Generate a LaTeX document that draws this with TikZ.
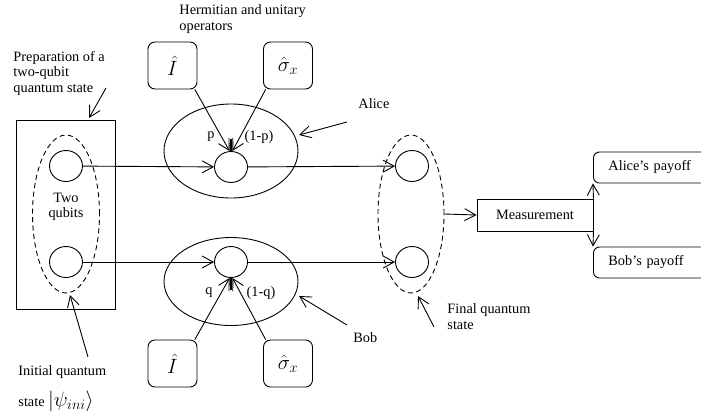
\documentclass[tikz,border=0pt]{standalone}
\usepackage{fontspec}
\setmainfont{Liberation Serif}
\usetikzlibrary{arrows.meta,shapes.geometric}
\begin{document}
\begin{tikzpicture}[x=1pt,y=-1pt, line width=0.9pt,
  arr/.style={-{Straight Barb[length=11pt,width=12pt,line width=0.9pt]}},
  qubit/.style={draw,ellipse,minimum width=33pt,minimum height=31pt,inner sep=0pt},
  group/.style={draw,ellipse,dash pattern=on 5pt off 3.5pt,minimum width=67pt,minimum height=158pt,inner sep=0pt},
  player/.style={draw,ellipse,minimum width=134pt,inner sep=0pt},
  opbox/.style={draw,rounded corners=7pt,minimum width=49pt,minimum height=47pt,inner sep=0pt,font=\fontsize{22}{22}\selectfont},
  lbl/.style={font=\fontsize{14.3}{15.5}\selectfont,inner sep=0pt},
  paybox/.style={draw,rounded corners=6pt,anchor=west,text width=115pt,align=left,inner xsep=15pt,minimum height=31pt,inner ysep=0pt},
  tick/.style={line width=1.4pt},
]
\useasboundingbox (0,0) rectangle (701,416);

% preparation box and initial state
\node[draw,minimum width=99pt,minimum height=189pt,inner sep=0pt] (prep) at (65.5,214.5) {};
\node[group] (ini) at (66,214) {};
\node[qubit] (qa0) at (66,166) {};
\node[qubit] (qb0) at (66,262) {};
\node[lbl,align=center] (two) at (66,207) {Two\\qubits};

% players
\node[player,minimum height=94pt] (alice) at (231,151) {};
\node[player,minimum height=88pt] (bob) at (231,281.5) {};
\node[qubit] (qa1) at (231,167) {};
\node[qubit] (qb1) at (231,262) {};

% operators
\node[opbox] (IA) at (172.5,65.5) {$\hat{I}$};
\node[opbox] (SA) at (288,65.5) {$\hat{\sigma}_x$};
\node[opbox] (IB) at (172.5,363.5) {$\hat{I}$};
\node[opbox] (SB) at (288,363.5) {$\hat{\sigma}_x$};

% final state
\node[group,minimum width=66pt] (fin) at (411,214) {};
\node[qubit] (qa2) at (412,166) {};
\node[qubit] (qb2) at (412,262) {};

% measurement and payoffs
\node[draw,lbl,minimum width=116pt,minimum height=32pt] (meas) at (535,215) {Measurement};
\node[lbl,paybox] (apay) at (593,167.5) {Alice’s payoff};
\node[lbl,paybox] (bpay) at (593,262.5) {Bob’s payoff};

% connectors
\draw[arr] (qa0) -- (qa1);
\draw[arr] (qa1) -- (qa2);
\draw[arr] (qb0) -- (qb1);
\draw[arr] (qb1) -- (qb2);
\draw[arr] (fin.east) -- (meas.west);
\draw[arr] (meas.north east) -- (apay.south west);
\draw[arr] (meas.south east) -- (bpay.north west);

\draw[arr] (IA.-47) -- (qa1.95);
\draw[arr] (SA.-133) -- (qa1.85);
\draw[arr] (IB.47) -- (qb1.-95);
\draw[arr] (SB.133) -- (qb1.-85);
\draw[tick] (qa1.north) -- ++(0,-12);
\draw[tick] (qb1.south) -- ++(0,12);

\node[lbl] (p) at (211,137) {p};
\node[lbl] (pp) at (259,137) {(1-p)};
\node[lbl] (q) at (209,293) {q};
\node[lbl] (qq) at (261,293) {(1-q)};

% labels
\node[lbl,anchor=west,align=left] (prepL) at (13,73) {Preparation of a\\two-qubit\\quantum state};
\node[lbl,anchor=west,align=left] (herm) at (179,19) {Hermitian and unitary\\operators};
\node[lbl,anchor=west] (aliceL) at (358,104) {Alice};
\node[lbl,anchor=west] (bobL) at (353,338) {Bob};
\node[lbl,anchor=west,align=left] (finL) at (447,316.5) {Final quantum\\state};
\node[lbl,anchor=west] (iniL1) at (18,372) {Initial quantum};
\node[lbl,anchor=west] (iniL2) at (18,401) {state {\fontsize{20}{20}\selectfont$\left|\psi_{ini}\right\rangle$}};

% pointer arrows
\coordinate (prepT) at (106,88);  \coordinate (prepH) at (89,118);
\coordinate (aliT) at (347,122);  \coordinate (aliH) at (299,135);
\coordinate (bobT) at (347,325);  \coordinate (bobH) at (299,296);
\coordinate (finT) at (434,327);  \coordinate (finH) at (418,296);
\coordinate (iniT) at (88,357);   \coordinate (iniH) at (70,295);
\draw[arr] (prepT) -- (prepH);
\draw[arr] (aliT) -- (aliH);
\draw[arr] (bobT) -- (bobH);
\draw[arr] (finT) -- (finH);
\draw[arr] (iniT) -- (iniH);
\end{tikzpicture}
\end{document}
